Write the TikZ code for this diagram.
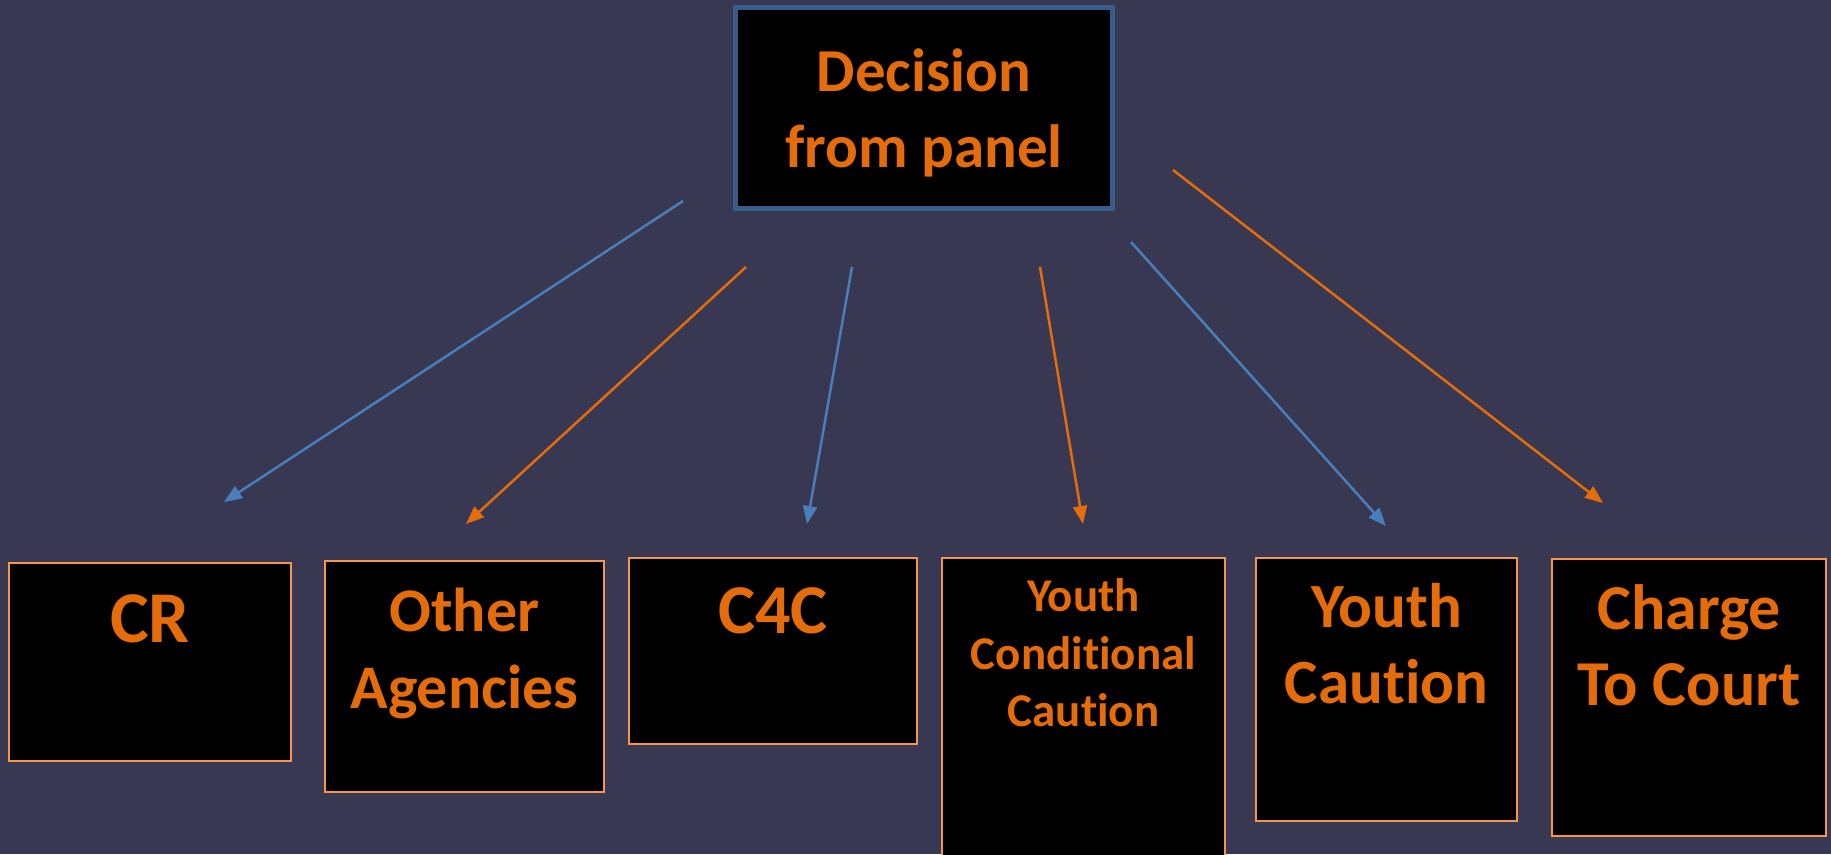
\documentclass[tikz,border=0pt]{standalone}
\usepackage{fontspec}
\setmainfont{Carlito}[Ligatures=NoCommon]
\usetikzlibrary{arrows.meta, positioning}

\definecolor{slate}{RGB}{57,56,82}
\definecolor{panelblue}{RGB}{56,93,138}
\definecolor{linkblue}{RGB}{74,126,187}
\definecolor{linkorange}{RGB}{228,108,10}
\definecolor{boxorange}{RGB}{247,150,70}

\begin{document}
\begin{tikzpicture}[x=1pt, y=-1pt, >={Triangle[length=18pt, width=14pt]},
    panel/.style={draw=panelblue, fill=black, line width=5pt, inner sep=0pt},
    outbox/.style={draw=boxorange, fill=black, line width=2pt, inner sep=0pt},
    caption/.style 2 args={text=linkorange, font=\bfseries\fontsize{#1}{#2}\selectfont,
        align=center, inner sep=0pt, anchor=base},
    blue link/.style={draw=linkblue, line width=2.5pt},
    orange link/.style={draw=linkorange, line width=2.5pt}]
    % Background
    \fill[slate] (0,0) rectangle (1831,854);
    \useasboundingbox (0,0) rectangle (1831,854);

    % Boxes
    \node[panel, minimum width=377pt, minimum height=201pt] (panel) at (924,108) {};
    \node[outbox, minimum width=282pt, minimum height=198pt] (cr) at (150,662) {};
    \node[outbox, minimum width=279pt, minimum height=231pt] (agencies) at (464.5,676.5) {};
    \node[outbox, minimum width=288pt, minimum height=186pt] (c4c) at (773,651) {};
    \node[outbox, minimum width=283pt, minimum height=311pt] (ycc) at (1083.5,713) {};
    \node[outbox, minimum width=261pt, minimum height=263pt] (yc) at (1386.5,689.5) {};
    \node[outbox, minimum width=274pt, minimum height=277pt] (court) at (1689,697.5) {};

    % Captions (base = last line)
    \node[caption={61}{76}] (paneltext) at ([yshift=-162pt]panel.north) {Decision\\from panel};
    \node[caption={73}{88}] (crtext) at ([yshift=-80pt]cr.north) {CR};
    \node[caption={62}{77}] (agenciestext) at ([yshift=-148pt]agencies.north) {Other\\Agencies};
    \node[caption={70}{84}] (c4ctext) at ([yshift=-76pt]c4c.north) {C4C};
    \node[caption={47}{57.5}] (ycctext) at ([yshift=-170pt]ycc.north) {Youth\\Conditional\\Caution};
    \node[caption={63}{76}] (yctext) at ([yshift=-146pt]yc.north) {Youth\\Caution};
    \node[caption={64}{76}] (courttext) at ([yshift=-147pt]court.north) {Charge\\To Court};

    % Link ends
    \coordinate (s1) at (683,201);  \coordinate (e1) at (224,502);
    \coordinate (s2) at (746,267);  \coordinate (e2) at (466,524);
    \coordinate (s3) at (852,267);  \coordinate (e3) at (807,524);
    \coordinate (s4) at (1040,267); \coordinate (e4) at (1083,524);
    \coordinate (s5) at (1131,242); \coordinate (e5) at (1386,526);
    \coordinate (s6) at (1173,170); \coordinate (e6) at (1603,503);

    % Links
    \path[->]
        (s1) edge [blue link] (e1)
        (s2) edge [orange link] (e2)
        (s3) edge [blue link] (e3)
        (s4) edge [orange link] (e4)
        (s5) edge [blue link] (e5)
        (s6) edge [orange link] (e6);
\end{tikzpicture}
\end{document}
